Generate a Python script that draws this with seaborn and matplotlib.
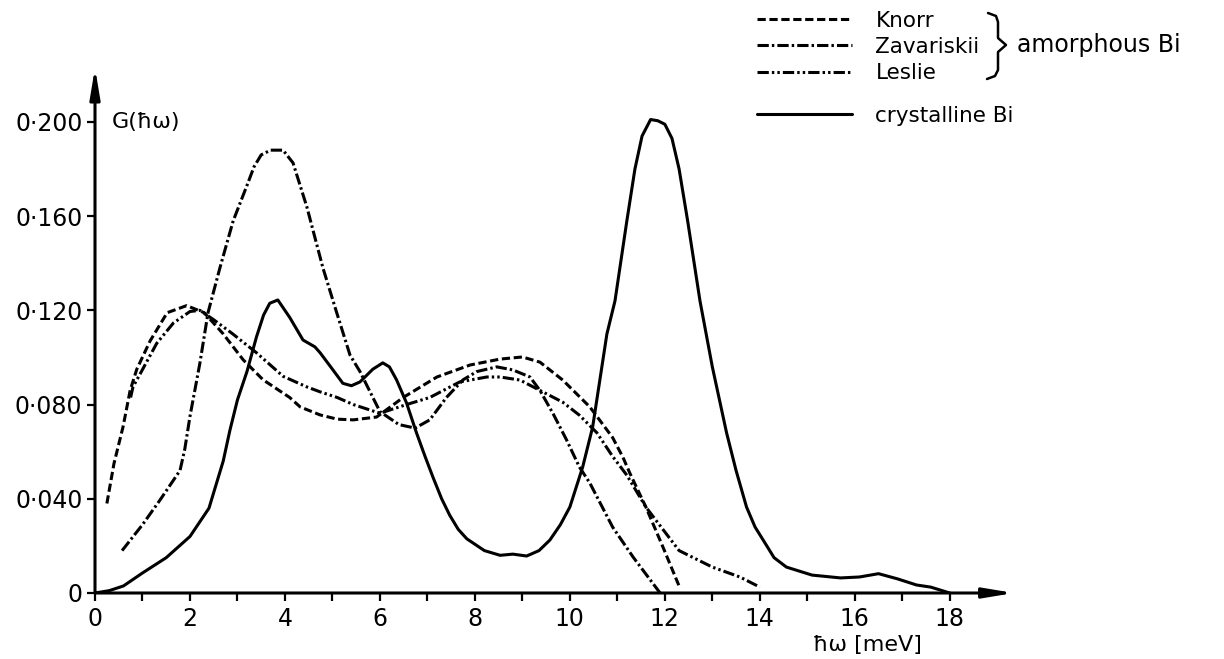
import matplotlib
matplotlib.use("Agg")
import matplotlib.pyplot as plt
from matplotlib.lines import Line2D
import seaborn as sns
import pandas as pd

# Phonon density of states G(ħω) of bismuth
cryst_x = [0.0, 0.3, 0.6, 1.0, 1.5, 2.0, 2.4, 2.7, 2.84, 3.0, 3.2, 3.4, 3.55, 3.68, 3.85,
           4.1, 4.38, 4.63, 4.74, 5.0, 5.22, 5.4, 5.58, 5.85, 6.06, 6.2, 6.35, 6.56, 6.77,
           6.95, 7.12, 7.3, 7.47, 7.65, 7.83, 8.2, 8.53, 8.8, 9.09, 9.35, 9.58, 9.8, 10.0,
           10.27, 10.48, 10.78, 10.95, 11.2, 11.37, 11.52, 11.7, 11.85, 12.0, 12.15, 12.3,
           12.48, 12.74, 13.0, 13.3, 13.5, 13.72, 13.9, 14.07, 14.3, 14.56, 15.1, 15.7,
           16.1, 16.5, 16.9, 17.3, 17.6, 18.0]
cryst_y = [0.0, 0.001, 0.003, 0.0085, 0.015, 0.024, 0.036, 0.056, 0.069, 0.082, 0.094,
           0.1087, 0.118, 0.123, 0.1244, 0.117, 0.1074, 0.1045, 0.102, 0.095, 0.089, 0.088,
           0.0896, 0.095, 0.0977, 0.096, 0.0905, 0.0807, 0.068, 0.058, 0.049, 0.040, 0.033,
           0.027, 0.023, 0.018, 0.016, 0.0165, 0.0157, 0.018, 0.0225, 0.029, 0.0365, 0.0535,
           0.0705, 0.110, 0.124, 0.158, 0.180, 0.194, 0.201, 0.2005, 0.199, 0.193, 0.180,
           0.158, 0.124, 0.096, 0.068, 0.052, 0.0365, 0.028, 0.0225, 0.015, 0.011, 0.0076,
           0.0064, 0.0068, 0.0082, 0.006, 0.0034, 0.0025, 0.0]

knorr_x = [0.25, 0.4, 0.59, 0.74, 0.88, 1.16, 1.52, 1.93, 2.3, 2.7, 3.12, 3.54, 4.1, 4.32,
           4.74, 5.1, 5.44, 5.93, 6.49, 7.2, 7.9, 8.53, 9.0, 9.37, 9.85, 10.42, 10.9, 11.12,
           11.26, 11.6, 11.96, 12.32]
knorr_y = [0.038, 0.055, 0.0705, 0.086, 0.095, 0.107, 0.119, 0.122, 0.119, 0.110, 0.099,
           0.0905, 0.083, 0.079, 0.0756, 0.0738, 0.0735, 0.0747, 0.083, 0.0917, 0.0968,
           0.0993, 0.1002, 0.098, 0.0904, 0.079, 0.066, 0.0575, 0.051, 0.0365, 0.0195, 0.002]

zav_x = [0.57, 1.0, 1.37, 1.79, 1.89, 2.0, 2.21, 2.38, 2.63, 2.91, 3.2, 3.35, 3.5, 3.7,
         3.96, 4.17, 4.46, 4.8, 5.09, 5.37, 5.58, 6.0, 6.4, 6.74, 7.05, 7.4, 7.75, 8.04,
         8.46, 8.8, 9.16, 9.37, 9.65, 9.93, 10.2, 10.42, 10.9, 11.33, 11.9]
zav_y = [0.018, 0.029, 0.0395, 0.052, 0.061, 0.075, 0.0977, 0.119, 0.138, 0.158, 0.173,
         0.181, 0.186, 0.188, 0.188, 0.1826, 0.164, 0.138, 0.119, 0.101, 0.094, 0.077,
         0.0715, 0.070, 0.0735, 0.083, 0.0905, 0.094, 0.096, 0.0947, 0.0917, 0.086, 0.076,
         0.065, 0.0535, 0.0467, 0.028, 0.0153, 0.0]

leslie_x = [0.75, 0.8, 0.95, 1.3, 1.65, 2.0, 2.21, 2.5, 2.9, 3.4, 3.96, 4.46, 4.74, 5.1,
            5.44, 6.0, 6.56, 7.05, 7.68, 8.25, 8.53, 8.95, 9.37, 9.85, 10.2, 10.57, 10.9,
            11.2, 11.6, 12.3, 13.0, 13.58, 14.0]
leslie_y = [0.083, 0.0875, 0.093, 0.106, 0.1146, 0.1195, 0.120, 0.116, 0.110, 0.102, 0.092,
            0.0875, 0.0854, 0.083, 0.080, 0.0763, 0.080, 0.083, 0.0896, 0.0917, 0.0917,
            0.0904, 0.086, 0.081, 0.0755, 0.068, 0.058, 0.050, 0.0365, 0.018, 0.011,
            0.0068, 0.0025]

y_ticks = [0.0, 0.04, 0.08, 0.12, 0.16, 0.20]
y_tick_labels = ["0", "0·040", "0·080", "0·120", "0·160", "0·200"]
x_ticks = [0, 2, 4, 6, 8, 10, 12, 14, 16, 18]
x_tick_labels = ["0", "2", "4", "6", "8", "10", "12", "14", "16", "18"]

sns.set_theme(style="white")
plt.rcParams["font.family"] = ["DejaVu Sans"]

fig = plt.figure(figsize=(12.24, 6.59), dpi=100)
fig.patch.set_facecolor("white")
ax = fig.add_axes([95 / 1224, 66 / 659, 926 / 1224, 530 / 659])
ax.set_facecolor("white")

LW = 2.2
series = [
    ("Knorr", knorr_x, knorr_y, (0, (2.7, 1.2))),
    ("Zavariskii", zav_x, zav_y, (0, (3.7, 1.0, 0.8, 1.0))),
    ("Leslie", leslie_x, leslie_y, (0, (3.7, 1.0, 0.8, 1.0, 0.8, 1.0))),
    ("crystalline Bi", cryst_x, cryst_y, "-"),
]
handles = {}
for name, xs, ys, ls in series:
    df = pd.DataFrame({"x": xs, "y": ys})
    sns.lineplot(data=df, x="x", y="y", ax=ax, estimator=None, sort=False,
                 color="black", linewidth=LW)
    line = ax.lines[-1]
    line.set_linestyle(ls)
    line.set_solid_capstyle("round")
    line.set_solid_joinstyle("round")
    line.set_dash_joinstyle("round")
    handles[name] = line

ax.set_xlim(0, 19.5)
ax.set_ylim(0, 0.225)
for s in ax.spines.values():
    s.set_visible(False)

ax.set_xticks(x_ticks)
ax.set_xticklabels(x_tick_labels)
ax.set_xticks(list(range(1, 19, 2)), minor=True)
ax.set_yticks(y_ticks)
ax.set_yticklabels(y_tick_labels)
ax.tick_params(axis="both", which="both", direction="out", length=6, width=1.6,
               color="black", labelcolor="black", labelsize=17)
ax.tick_params(axis="x", which="both", bottom=True, pad=4)
ax.tick_params(axis="y", which="both", left=True, pad=3)
ax.set_xlabel("")
ax.set_ylabel("")
ax.grid(False)

# axes drawn as arrows
arrow = dict(arrowstyle="-|>,head_length=1.8,head_width=0.3", lw=2.2, color="black",
             shrinkA=0, shrinkB=0, mutation_scale=10)
ax.annotate("", xy=(19.35, 0), xytext=(0, 0), arrowprops=arrow, annotation_clip=False)
ax.annotate("", xy=(0, 0.223), xytext=(0, 0), arrowprops=arrow, annotation_clip=False)

ax.text(0.35, 0.200, "G(ħω)", fontsize=16, va="center", ha="left", color="black")
fig.text(813 / 1224, 1 - 645 / 659, "ħω [meV]", fontsize=16, va="center", ha="left",
         color="black")

leg_kw = dict(frameon=False, fontsize=15.5, handlelength=4.4, handletextpad=1.1,
              borderpad=0, borderaxespad=0, labelcolor="black")
leg1 = ax.legend([handles["Knorr"], handles["Zavariskii"], handles["Leslie"]],
                 ["Knorr", "Zavariskii", "Leslie"], loc="upper left",
                 bbox_to_anchor=(757 / 1224, 1 - 11 / 659), bbox_transform=fig.transFigure,
                 labelspacing=0.28, **leg_kw)
ax.add_artist(leg1)
ax.legend([handles["crystalline Bi"]], ["crystalline Bi"], loc="upper left",
          bbox_to_anchor=(757 / 1224, 1 - 106 / 659), bbox_transform=fig.transFigure,
          **leg_kw)

# bracket grouping the amorphous samples
bx = [988, 996, 998, 998, 1006, 998, 998, 995, 987]
by = [13, 16, 22, 38, 45, 52, 70, 76, 79]
fig.add_artist(Line2D([v / 1224 for v in bx], [1 - v / 659 for v in by],
                      transform=fig.transFigure, color="black", lw=1.8,
                      solid_joinstyle="round"))
fig.text(1017 / 1224, 1 - 45 / 659, "amorphous Bi", fontsize=17, va="center", ha="left",
         color="black")

fig.savefig("out.png", dpi=100, facecolor="white")
